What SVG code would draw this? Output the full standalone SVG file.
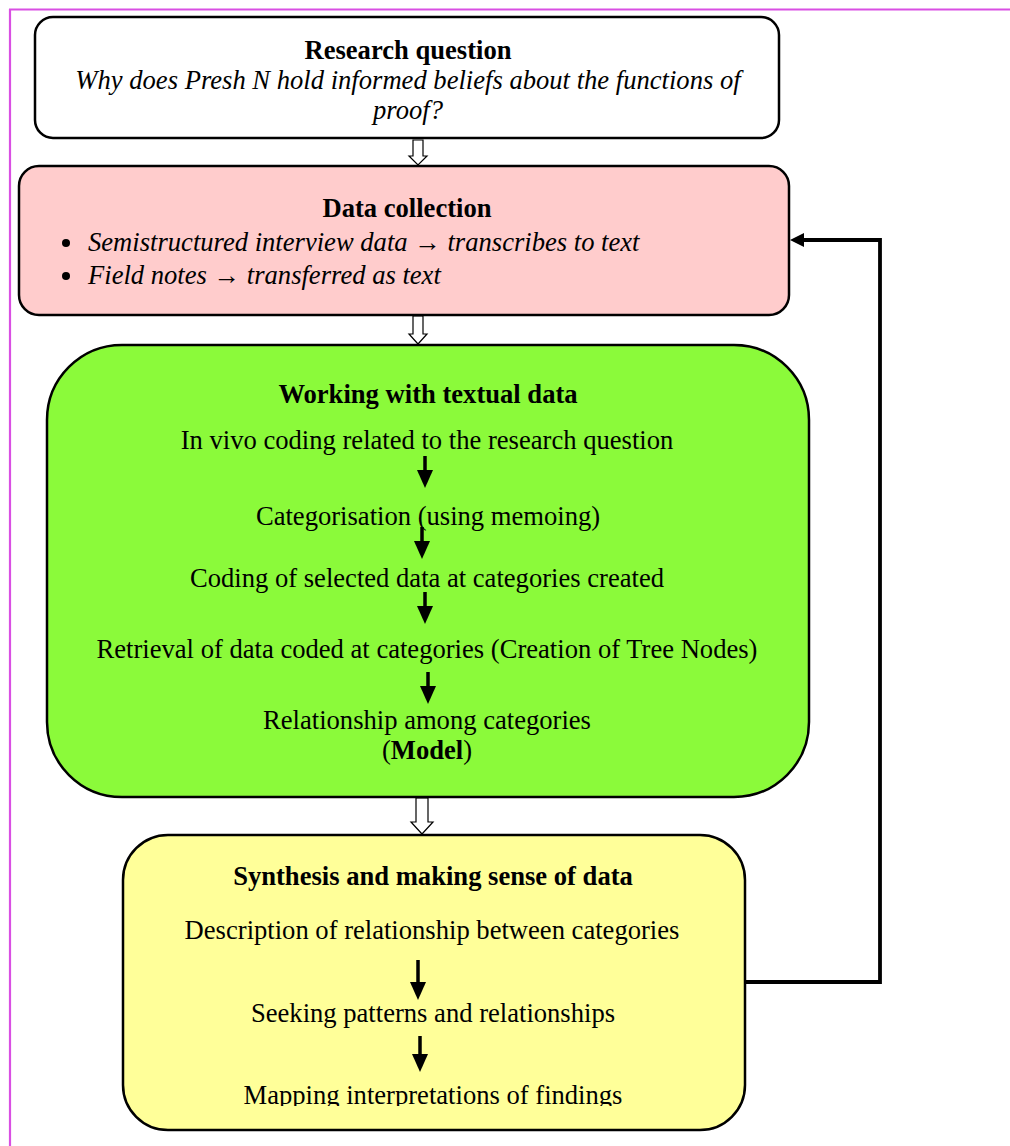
<svg xmlns="http://www.w3.org/2000/svg" width="1010" height="1146" viewBox="0 0 1010 1146">
<style>
.box{stroke:#000;stroke-width:2.5}
.t{font-family:"Liberation Serif","Times New Roman",serif;font-size:26.6px;fill:#000;text-anchor:middle}
.b{font-weight:bold}
.i{font-style:italic}
.hollow{fill:#fff;stroke:#000;stroke-width:1.2}
.conn{fill:none;stroke:#000;stroke-width:3.8}
.inner{stroke:#000;stroke-width:3.5}
</style>
<defs>
<clipPath id="clipSyn"><rect x="0" y="0" width="1010" height="1106"/></clipPath>
</defs>
<rect width="1010" height="1146" fill="#fff"/>
<g id="page-border">
<line x1="9" y1="9.5" x2="1010" y2="9.5" stroke="#d94fe3" stroke-width="2.2"/>
<line x1="10" y1="9" x2="10" y2="1146" stroke="#d94fe3" stroke-width="2.2"/>
</g>
<g id="connectors">
<path class="hollow" d="M413,140 H423 V156 H427 L418,165 L409,156 H413 Z"/>
<path class="hollow" d="M413,316 H423 V334 H427 L418,344 L409,334 H413 Z"/>
<path class="hollow" d="M416,798 H428 V822 H433 L422,834 L411,822 H416 Z"/>
<polyline class="conn" points="745,982 880,982 880,240 800,240"/>
<path d="M790,240 L804,233 L804,247 Z" fill="#000"/>
</g>
<g id="research-question">
<rect class="box" x="35" y="17" width="744" height="121" rx="18" fill="#fff"/>
<text class="t b" x="408" y="59">Research question</text>
<text class="t i" x="408" y="89">Why does Presh N hold informed beliefs about the functions of</text>
<text class="t i" x="408" y="119">proof?</text>
</g>
<g id="data-collection">
<rect class="box" x="19" y="166" width="770" height="149" rx="20" fill="#ffcccc"/>
<text class="t b" x="407" y="217">Data collection</text>
<circle cx="66" cy="243" r="4" fill="#000"/>
<circle cx="66" cy="276" r="4" fill="#000"/>
<text class="t i" x="88" y="251" style="text-anchor:start">Semistructured interview data → transcribes to text</text>
<text class="t i" x="88" y="284" style="text-anchor:start">Field notes → transferred as text</text>
</g>
<g id="working-with-textual-data">
<rect class="box" x="47" y="345" width="762" height="452" rx="75" fill="#8bfa3a"/>
<text class="t b" x="428" y="403">Working with textual data</text>
<text class="t" x="427" y="449">In vivo coding related to the research question</text>
<line class="inner" x1="425" y1="456" x2="425" y2="472"/>
<path d="M417,470 L433,470 L425,488 Z" fill="#000"/>
<text class="t" x="428" y="525">Categorisation (using memoing)</text>
<line class="inner" x1="422" y1="527" x2="422" y2="543"/>
<path d="M414,541 L430,541 L422,559 Z" fill="#000"/>
<text class="t" x="427" y="587">Coding of selected data at categories created</text>
<line class="inner" x1="425" y1="592" x2="425" y2="608"/>
<path d="M417,606 L433,606 L425,624 Z" fill="#000"/>
<text class="t" x="427" y="658">Retrieval of data coded at categories (Creation of Tree Nodes)</text>
<line class="inner" x1="428" y1="672" x2="428" y2="688"/>
<path d="M420,686 L436,686 L428,704 Z" fill="#000"/>
<text class="t" x="427" y="729">Relationship among categories</text>
<text class="t" x="427" y="759">(<tspan class="b">Model</tspan>)</text>
</g>
<g id="synthesis">
<rect class="box" x="123" y="835" width="622" height="295" rx="45" fill="#ffff99"/>
<text class="t b" x="433" y="885">Synthesis and making sense of data</text>
<text class="t" x="432" y="939">Description of relationship between categories</text>
<line class="inner" x1="418" y1="960" x2="418" y2="984"/>
<path d="M410,982 L426,982 L418,1000 Z" fill="#000"/>
<text class="t" x="433" y="1022">Seeking patterns and relationships</text>
<line class="inner" x1="420" y1="1036" x2="420" y2="1056"/>
<path d="M412,1054 L428,1054 L420,1072 Z" fill="#000"/>
<text class="t" x="433" y="1104" clip-path="url(#clipSyn)">Mapping interpretations of findings</text>
</g>
</svg>
